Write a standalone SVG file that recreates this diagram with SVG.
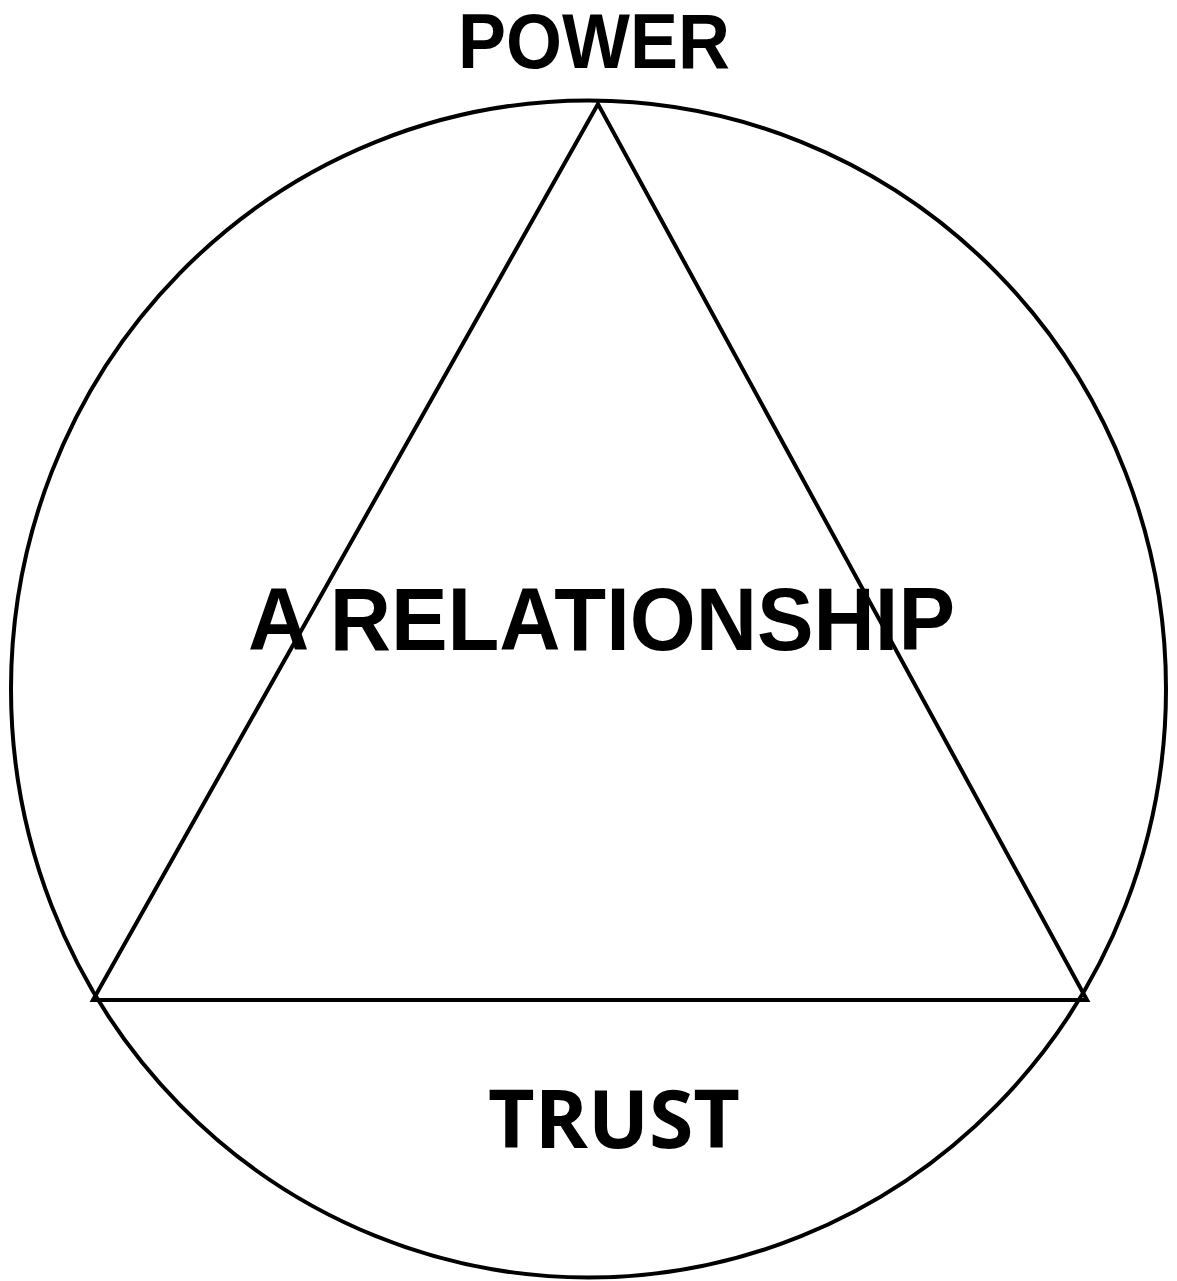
<svg xmlns="http://www.w3.org/2000/svg" width="1177" height="1281" viewBox="0 0 1177 1281">
<style>
.ln{fill:none;stroke:#000;stroke-width:4;stroke-linejoin:miter}
.t{font-family:"Liberation Sans",Arial,sans-serif;font-weight:bold;fill:#000;text-anchor:middle}
.c{font-family:"Open Sans","Liberation Sans",sans-serif;font-weight:bold;fill:#000;text-anchor:middle}
</style>
<rect width="1177" height="1281" fill="#fff"/>
<g id="connectors">
<ellipse id="circle" class="ln" cx="588.5" cy="689" rx="577.5" ry="588.5"/>
<polygon id="triangle" class="ln" points="598,104 93,1000 1087,1000"/>
</g>
<g id="power"><text class="t" x="594" y="68" font-size="77" textLength="272" lengthAdjust="spacingAndGlyphs">POWER</text></g>
<g id="relationship"><text class="t" x="601.5" y="650" font-size="89" textLength="707" lengthAdjust="spacingAndGlyphs">A RELATIONSHIP</text></g>
<g id="trust"><text class="c" x="614" y="1148" font-size="80" textLength="252" lengthAdjust="spacingAndGlyphs">TRUST</text></g>
</svg>
